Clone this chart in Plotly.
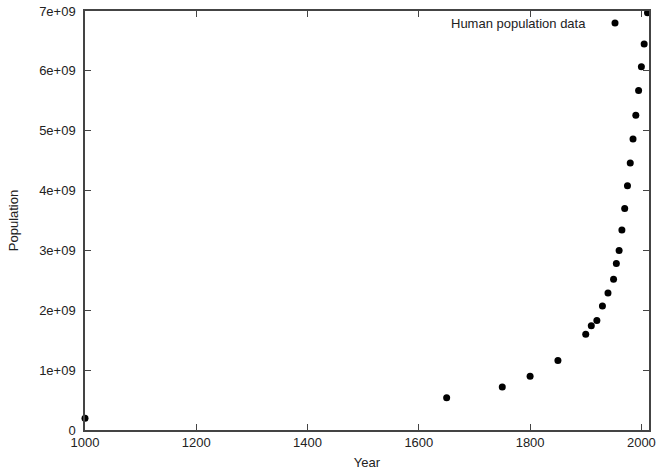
import plotly.graph_objects as go

years = [1000, 1650, 1750, 1800, 1850, 1900, 1910, 1920, 1930, 1940, 1950, 1955,
         1960, 1965, 1970, 1975, 1980, 1985, 1990, 1995, 2000, 2005, 2011]
population = [0.195e9, 0.54e9, 0.72e9, 0.90e9, 1.16e9, 1.60e9, 1.74e9, 1.83e9, 2.07e9,
              2.29e9, 2.52e9, 2.78e9, 3.00e9, 3.34e9, 3.70e9, 4.08e9, 4.46e9, 4.86e9,
              5.26e9, 5.67e9, 6.07e9, 6.45e9, 6.97e9]
series_name = "Human population data"

x_ticks = [1000, 1200, 1400, 1600, 1800, 2000]
y_ticks = [0, 1e9, 2e9, 3e9, 4e9, 5e9, 6e9, 7e9]
y_tick_labels = ["0", "1e+09", "2e+09", "3e+09", "4e+09", "5e+09", "6e+09", "7e+09"]

font = dict(family="Liberation Sans, Arial, Helvetica, sans-serif", size=13, color="#222")

fig = go.Figure()
fig.add_trace(go.Scatter(
    x=years, y=population, mode="markers", name=series_name,
    marker=dict(color="black", size=7), showlegend=False, cliponaxis=False,
))

axis_common = dict(
    showgrid=False, zeroline=False, showline=True, linecolor="#444", linewidth=1.5,
    mirror="allticks", ticks="inside", ticklen=6, tickcolor="#444", tickwidth=1,
    tickfont=font, automargin=False,
)

fig.update_xaxes(range=[1000, 2013.7], tickvals=x_ticks, **axis_common,
                 title=dict(text="Year", font=font, standoff=9))
fig.update_yaxes(range=[0, 7e9], tickvals=y_ticks, ticktext=y_tick_labels, **axis_common,
                 ticklabelstandoff=5,
                 title=dict(text="Population", font=font, standoff=18))

fig.add_annotation(xref="paper", yref="paper", x=(587.5 - 85) / 564, y=(430 - 23) / 419,
                   text=series_name, showarrow=False, xanchor="right", yanchor="middle",
                   font=font)
fig.add_shape(type="circle", xref="paper", yref="paper",
              x0=(615 - 3.5 - 85) / 564, x1=(615 + 3.5 - 85) / 564,
              y0=(430 - 23 - 3.5) / 419, y1=(430 - 23 + 3.5) / 419,
              fillcolor="black", line=dict(width=0))

fig.update_layout(
    width=665, height=470,
    margin=dict(l=85, r=16, t=11, b=40),
    plot_bgcolor="white", paper_bgcolor="white",
    font=font,
)

fig.write_html("out.html", config={"displayModeBar": False},
               post_script="document.body.style.margin='0px';document.body.style.overflow='hidden';")
